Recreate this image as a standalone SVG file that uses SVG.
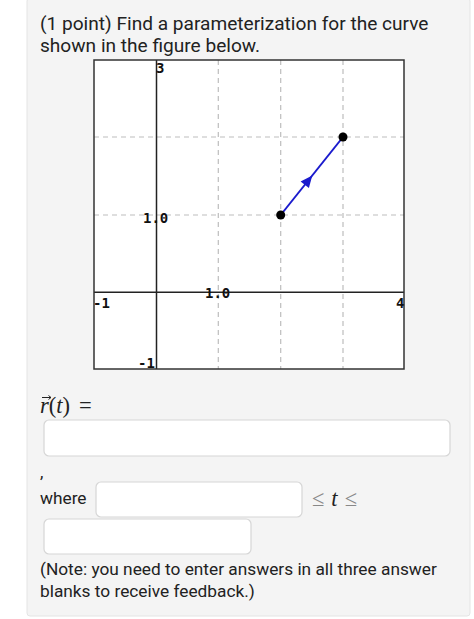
<svg xmlns="http://www.w3.org/2000/svg" width="474" height="619" viewBox="0 0 474 619">
<style>
.t{font-family:Roboto,"Liberation Sans",sans-serif;font-size:17.3px;fill:#222}
.h{font-size:19.1px}
.grid{stroke:#bdbdbd;stroke-width:1.2;stroke-dasharray:5,4;fill:none}
.ax{stroke:#222;stroke-width:1.5}
.lbl{font-family:"DejaVu Sans Mono","Liberation Mono",monospace;font-weight:bold;font-size:14px;fill:#111}
.box{fill:#fff;stroke:#d6d6d6;stroke-width:1.2}
.m{font-family:"Liberation Serif","DejaVu Serif",serif;font-size:22.5px;fill:#222}
</style>
<rect x="0" y="0" width="474" height="619" fill="#ffffff"/>
<rect x="27" y="-2" width="443" height="618" rx="3" fill="#f4f4f4" stroke="#e4e4e4"/>
<g id="title">
<text class="t h" x="40" y="30">(1 point) Find a parameterization for the curve</text>
<text class="t h" x="40" y="52">shown in the figure below.</text>
</g>
<g id="plot">
<rect x="94" y="60" width="310" height="309" fill="#fff"/>
<g class="grid">
<line x1="218.3" y1="60" x2="218.3" y2="369"/>
<line x1="280.7" y1="60" x2="280.7" y2="369"/>
<line x1="343" y1="60" x2="343" y2="369"/>
<line x1="94" y1="137" x2="404" y2="137"/>
<line x1="94" y1="215" x2="404" y2="215"/>
</g>
<line class="ax" x1="94" y1="292.3" x2="404" y2="292.3"/>
<line class="ax" x1="156.5" y1="60" x2="156.5" y2="369"/>
<rect x="94" y="60" width="310" height="309" fill="none" stroke="#333" stroke-width="1.5"/>
<text class="lbl" x="156" y="73">3</text>
<text class="lbl" x="143" y="223">1.0</text>
<text class="lbl" x="205" y="298">1.0</text>
<text class="lbl" x="93" y="308">-1</text>
<text class="lbl" x="396" y="308">4</text>
<text class="lbl" x="138" y="368">-1</text>
</g>
<g id="curve">
<line x1="280.7" y1="215" x2="343" y2="137" stroke="#1a1acd" stroke-width="2"/>
<path d="M312.3,175.5 L308.9,188 L300.6,181.6 z" fill="#1a1acd"/>
<circle cx="280.7" cy="215" r="4.5" fill="#000"/>
<circle cx="343" cy="137" r="4.5" fill="#000"/>
</g>
<g id="form">
<text class="m" x="40" y="413"><tspan font-style="italic">r</tspan>(<tspan font-style="italic">t</tspan>)<tspan dx="9">=</tspan></text>
<path d="M42,397.5 L51,397.5 M48.5,395.5 L51,397.5 L48.5,399.5" stroke="#222" stroke-width="1" fill="none"/>
<rect class="box" x="44" y="420" width="406" height="36" rx="5"/>
<text class="t" x="40" y="478">,</text>
<text class="t" x="40" y="504">where</text>
<rect class="box" x="96" y="482" width="206" height="35" rx="5"/>
<text class="m" x="312" y="506"><tspan fill="#888">≤</tspan><tspan dx="7" font-style="italic">t</tspan><tspan dx="7" fill="#888">≤</tspan></text>
<rect class="box" x="44" y="519" width="207" height="35" rx="5"/>
<text class="t" x="40" y="575">(Note: you need to enter answers in all three answer</text>
<text class="t" x="40" y="597">blanks to receive feedback.)</text>
</g>
</svg>
